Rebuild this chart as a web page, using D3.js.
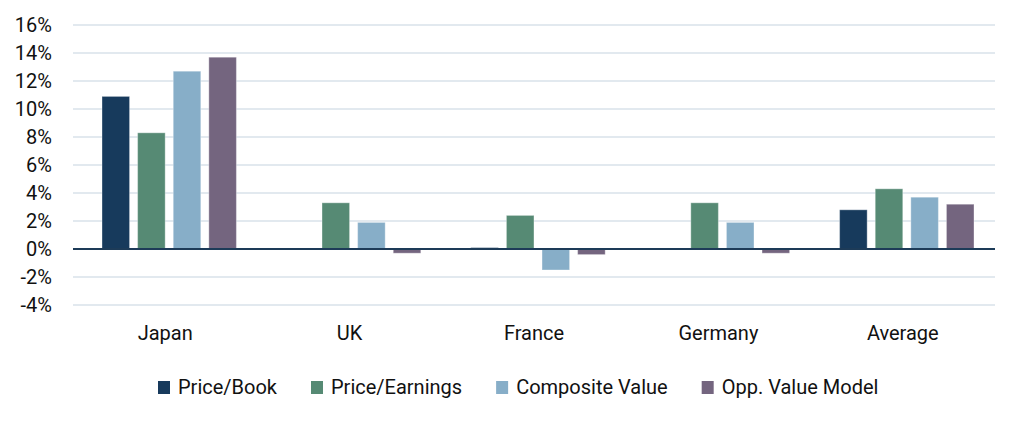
<!DOCTYPE html>
<html>
<head>
<meta charset="utf-8">
<script src="https://cdn.jsdelivr.net/npm/d3@7"></script>
<style>
  body { margin: 0; background: #fff; }
  svg { font-family: Roboto, "Noto Sans", sans-serif; }
</style>
</head>
<body>
<svg id="chart" width="1015" height="421"></svg>
<script>
var categories = ["Japan", "UK", "France", "Germany", "Average"];
var seriesNames = ["Price/Book", "Price/Earnings", "Composite Value", "Opp. Value Model"];
var priceBook = [10.9, 0.05, 0.1, 0.05, 2.8];
var priceEarnings = [8.3, 3.3, 2.4, 3.3, 4.3];
var compositeValue = [12.7, 1.9, -1.5, 1.9, 3.7];
var oppValueModel = [13.7, -0.3, -0.4, -0.3, 3.2];
var yTicks = [-4, -2, 0, 2, 4, 6, 8, 10, 12, 14, 16];

var color = ["#173a5c", "#568a74", "#87aec8", "#74657f"];
var allSeries = [priceBook, priceEarnings, compositeValue, oppValueModel];

var svg = d3.select("#chart");
var plotLeft = 73, plotRight = 995, plotTop = 25, plotBottom = 305;

var x = d3.scaleBand().domain(categories).range([plotLeft, plotRight]).paddingInner(0).paddingOuter(0);
var x1 = d3.scaleBand().domain(d3.range(4)).range([29, 29 + 4 * 33.6]).paddingInner(0.226).paddingOuter(0);
var y = d3.scaleLinear().domain([-4, 16]).range([plotBottom, plotTop]);

// grid
svg.append("g")
  .selectAll("line")
  .data(yTicks)
  .enter()
  .append("line")
  .attr("x1", plotLeft).attr("x2", plotRight)
  .attr("y1", d => y(d)).attr("y2", d => y(d))
  .style("stroke", "#d8e2ea")
  .style("stroke-width", 1.5);

// y labels
svg.append("g")
  .selectAll("text")
  .data(yTicks)
  .enter()
  .append("text")
  .attr("x", 52)
  .attr("y", d => y(d))
  .attr("dy", "0.36em")
  .attr("text-anchor", "end")
  .attr("font-size", "20px")
  .style("fill", "#111")
  .text(d => d + "%");

// bars
var groups = svg.append("g")
  .selectAll("g")
  .data(categories)
  .enter()
  .append("g")
  .attr("transform", d => "translate(" + x(d) + ",0)");

groups.selectAll("rect")
  .data((c, ci) => allSeries.map((s, si) => ({ si: si, v: s[ci] })))
  .enter()
  .append("rect")
  .attr("x", d => x1(d.si))
  .attr("width", x1.bandwidth())
  .attr("y", d => y(Math.max(0, d.v)))
  .attr("height", d => Math.abs(y(d.v) - y(0)))
  .style("fill", d => color[d.si])
  .style("stroke", "rgba(255,255,255,0.35)")
  .style("stroke-width", 1);

// zero line
svg.append("line")
  .attr("x1", plotLeft).attr("x2", plotRight)
  .attr("y1", y(0)).attr("y2", y(0))
  .style("stroke", "#1d3b58")
  .style("stroke-width", 2);

// category labels
svg.append("g")
  .selectAll("text")
  .data(categories)
  .enter()
  .append("text")
  .attr("x", d => x(d) + x.bandwidth() / 2)
  .attr("y", 340)
  .attr("text-anchor", "middle")
  .attr("font-size", "20px")
  .style("fill", "#111")
  .text(d => d);

// legend
var legend = svg.append("g");
var lx = 158;
seriesNames.forEach(function(name, i) {
  legend.append("rect")
    .attr("x", lx).attr("y", 381)
    .attr("width", 12).attr("height", 13)
    .style("fill", color[i]);
  var t = legend.append("text")
    .attr("x", lx + 20)
    .attr("y", 394)
    .attr("font-size", "20px")
    .style("fill", "#111")
    .text(name);
  lx += 20 + t.node().getComputedTextLength() + 34;
});
</script>
</body>
</html>
